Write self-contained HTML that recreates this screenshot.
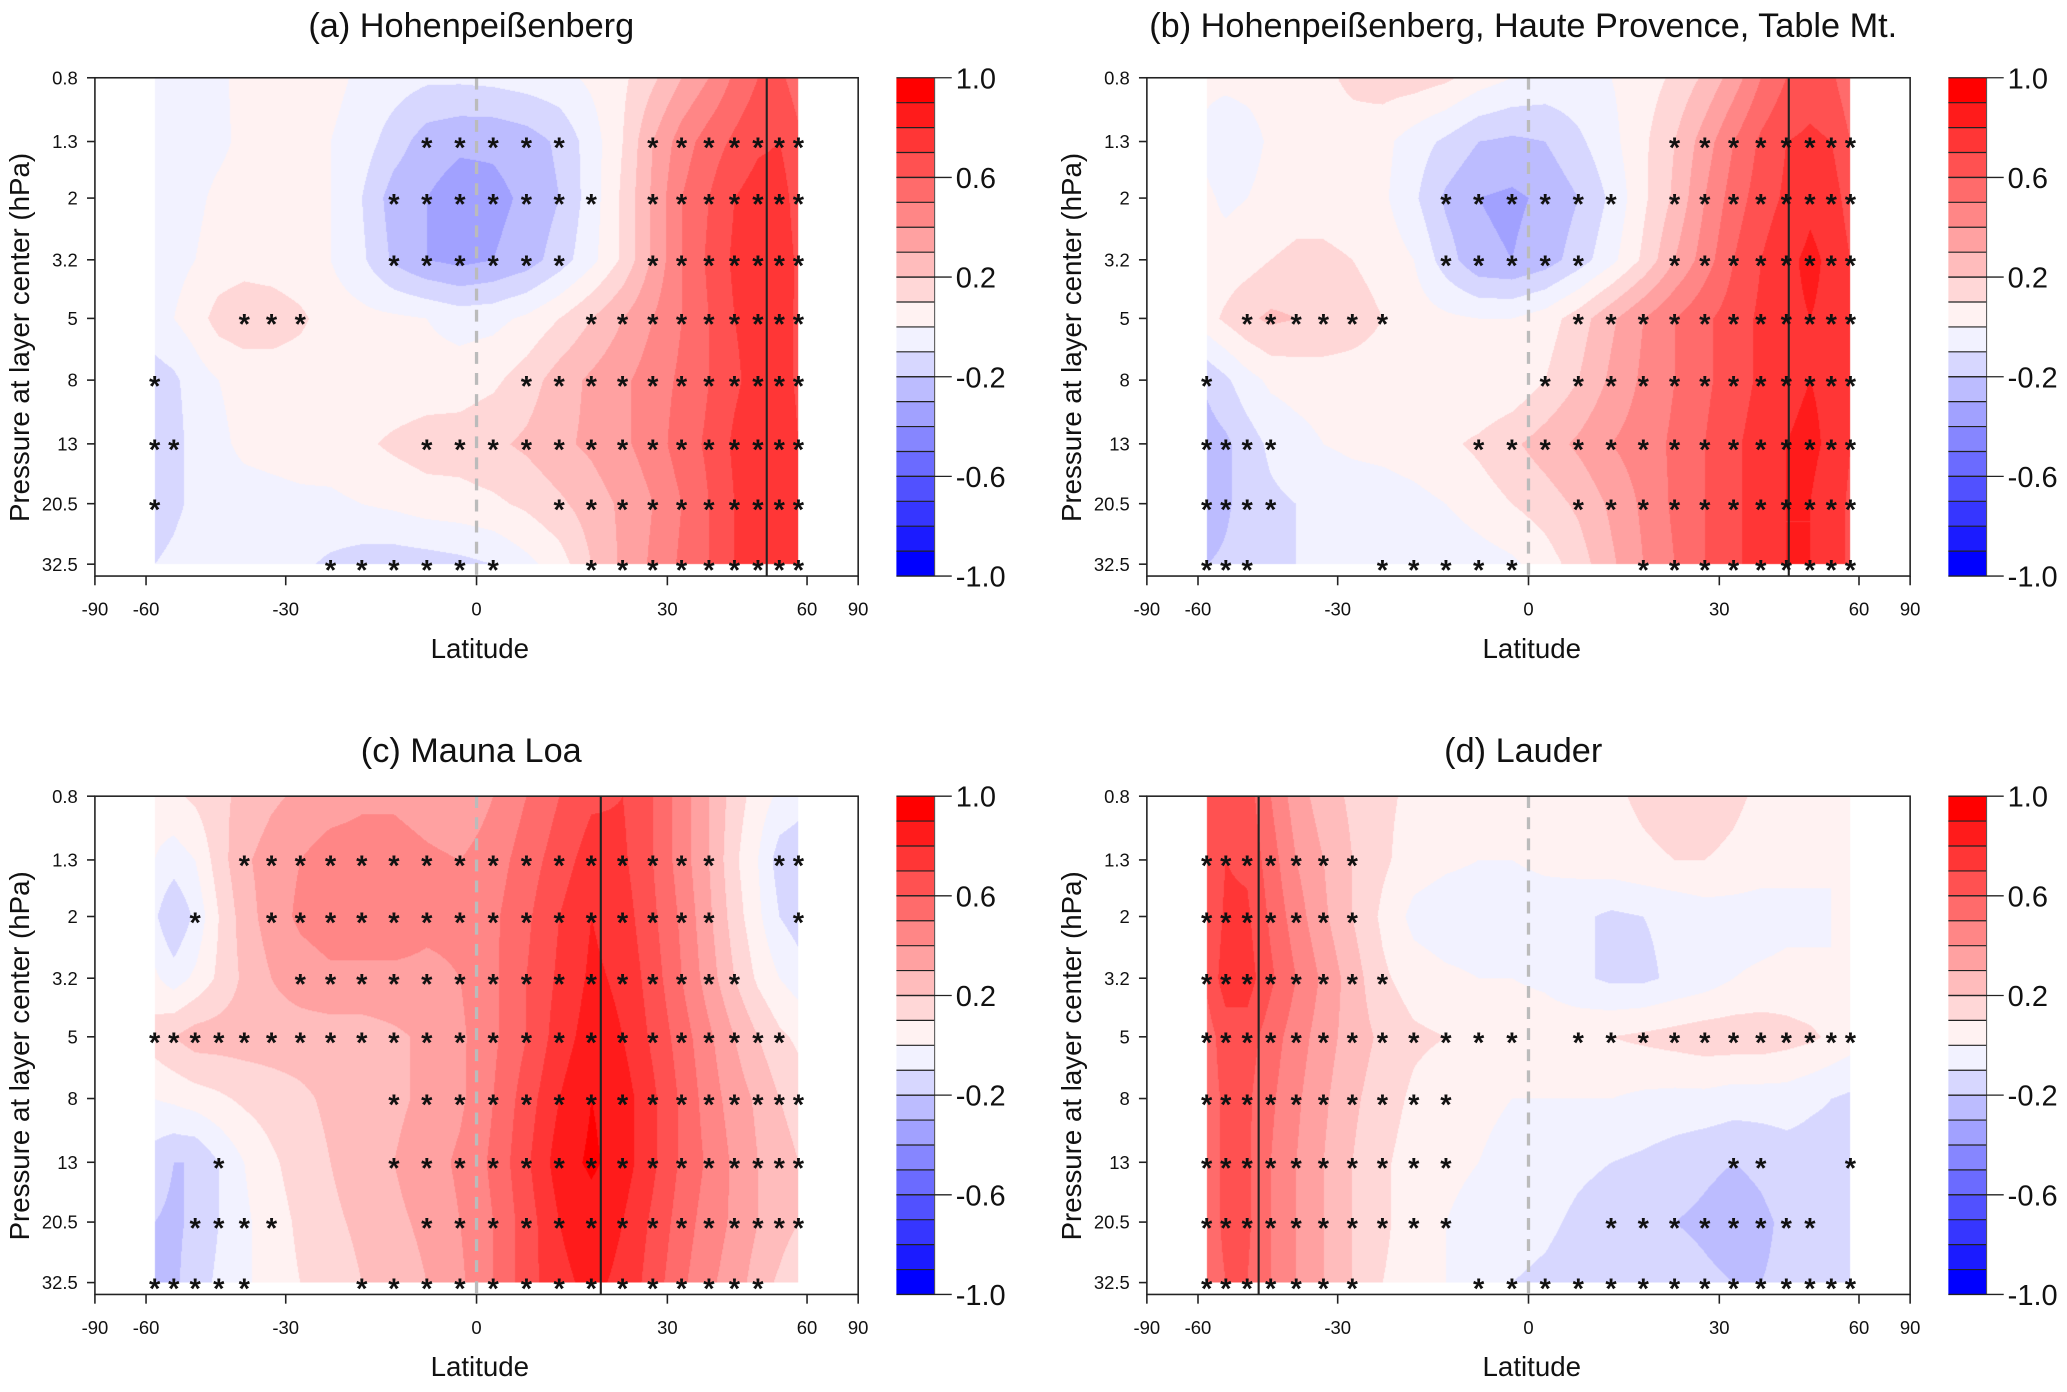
<!DOCTYPE html>
<html><head><meta charset="utf-8">
<style>
html,body{margin:0;padding:0;background:#fff;}
body{width:2067px;height:1392px;overflow:hidden;position:relative;}
#wrap{position:absolute;left:0;top:0;width:1568px;height:1056px;transform:scale(1.31824,1.31818);transform-origin:0 0;}
canvas{position:absolute;}
svg{position:absolute;left:0;top:0;}
text{font-family:"Liberation Sans",Arial,sans-serif;fill:#111;}
</style></head>
<body>
<div id="wrap"></div>
<script>
// ---------- DATA ----------
const pressureLevels = [0.8,1.3,2,3.2,5,8,13,20.5,32.5];
const latCenters = [-57.5,-52.5,-47.5,-42.5,-37.5,-32.5,-27.5,-22.5,-17.5,-12.5,-7.5,-2.5,2.5,7.5,12.5,17.5,22.5,27.5,32.5,37.5,42.5,47.5,52.5,57.5];
const xTickLabels = [-90,-60,-30,0,30,60,90];
const colorbarLabels = ["1.0","0.6","0.2","-0.2","-0.6","-1.0"];
const panelTitles = ["(a) Hohenpeißenberg","(b) Hohenpeißenberg, Haute Provence, Table Mt.","(c) Mauna Loa","(d) Lauder"];
const stationLats = [49.5, 43, 19, -45];

const panelAValues = [
[-0.05,-0.05,-0.05,-0.02,0.03,0.05,0.05,0.03,-0.02,-0.05,-0.08,-0.08,-0.07,-0.05,-0.03,0.02,0.08,0.18,0.3,0.4,0.52,0.6,0.62,0.55],
[-0.05,-0.05,-0.04,-0.02,0.02,0.03,0.02,0.0,-0.05,-0.15,-0.25,-0.28,-0.28,-0.25,-0.18,-0.05,0.1,0.3,0.45,0.55,0.62,0.68,0.7,0.62],
[-0.05,-0.04,-0.02,0.02,0.04,0.04,0.03,0.0,-0.1,-0.25,-0.3,-0.35,-0.33,-0.28,-0.2,-0.05,0.12,0.32,0.5,0.6,0.7,0.75,0.75,0.65],
[-0.05,-0.03,0.0,0.04,0.06,0.05,0.03,0.0,-0.08,-0.22,-0.3,-0.33,-0.3,-0.25,-0.15,-0.03,0.12,0.32,0.5,0.62,0.72,0.78,0.76,0.68],
[-0.03,0.0,0.05,0.14,0.17,0.16,0.12,0.05,0.03,0.02,0.0,-0.04,-0.03,0.02,0.1,0.2,0.3,0.4,0.5,0.6,0.7,0.75,0.75,0.68],
[-0.15,-0.12,-0.05,0.0,0.03,0.04,0.04,0.04,0.03,0.03,0.04,0.05,0.08,0.15,0.25,0.32,0.38,0.45,0.52,0.6,0.68,0.75,0.75,0.68],
[-0.18,-0.15,-0.05,-0.02,0.02,0.03,0.04,0.05,0.08,0.12,0.15,0.15,0.18,0.22,0.28,0.32,0.38,0.45,0.55,0.62,0.72,0.78,0.78,0.7],
[-0.15,-0.12,-0.08,-0.05,-0.04,-0.03,-0.02,-0.02,0.0,0.02,0.05,0.06,0.08,0.12,0.18,0.25,0.32,0.4,0.5,0.6,0.7,0.78,0.78,0.7],
[-0.1,-0.08,-0.05,-0.03,-0.03,-0.05,-0.08,-0.12,-0.15,-0.16,-0.15,-0.13,-0.1,-0.03,0.05,0.2,0.32,0.42,0.52,0.6,0.7,0.76,0.76,0.7]];
const panelBValues = [
[0.03,0.03,0.04,0.05,0.06,0.08,0.12,0.15,0.15,0.12,0.05,0.0,-0.03,-0.03,0.0,0.05,0.12,0.22,0.35,0.5,0.6,0.65,0.62,0.52],
[-0.03,-0.08,-0.05,0.02,0.05,0.06,0.06,0.03,-0.05,-0.12,-0.2,-0.22,-0.2,-0.12,-0.03,0.08,0.2,0.35,0.5,0.62,0.7,0.72,0.7,0.6],
[0.02,-0.02,0.0,0.04,0.06,0.06,0.05,0.02,-0.08,-0.22,-0.3,-0.32,-0.28,-0.2,-0.08,0.08,0.22,0.4,0.55,0.65,0.72,0.78,0.75,0.65],
[0.03,0.04,0.06,0.1,0.12,0.12,0.1,0.06,0.0,-0.15,-0.28,-0.3,-0.25,-0.15,-0.03,0.12,0.3,0.45,0.6,0.7,0.78,0.82,0.78,0.7],
[0.06,0.12,0.18,0.22,0.2,0.18,0.15,0.1,0.05,0.02,0.0,0.0,0.05,0.15,0.28,0.4,0.5,0.58,0.65,0.72,0.78,0.8,0.78,0.7],
[-0.18,-0.12,-0.04,0.02,0.04,0.05,0.05,0.05,0.04,0.02,0.0,0.02,0.1,0.2,0.32,0.42,0.5,0.58,0.65,0.72,0.78,0.8,0.78,0.7],
[-0.25,-0.22,-0.15,-0.08,-0.04,0.0,0.02,0.03,0.05,0.08,0.12,0.18,0.25,0.32,0.4,0.45,0.52,0.6,0.68,0.75,0.8,0.82,0.78,0.7],
[-0.28,-0.22,-0.15,-0.12,-0.1,-0.08,-0.06,-0.05,-0.03,0.0,0.05,0.1,0.15,0.22,0.32,0.42,0.52,0.6,0.68,0.75,0.8,0.8,0.75,0.68],
[-0.2,-0.18,-0.15,-0.12,-0.1,-0.1,-0.1,-0.1,-0.1,-0.08,-0.05,-0.02,0.05,0.15,0.28,0.4,0.5,0.6,0.68,0.75,0.8,0.8,0.75,0.68]];
const panelCValues = [
[0.05,0.08,0.12,0.18,0.22,0.28,0.32,0.35,0.38,0.38,0.35,0.32,0.4,0.5,0.6,0.68,0.7,0.6,0.45,0.3,0.15,0.05,-0.02,-0.05],
[0.0,-0.05,0.0,0.15,0.28,0.35,0.4,0.45,0.45,0.45,0.42,0.4,0.45,0.55,0.65,0.75,0.72,0.6,0.45,0.3,0.12,0.0,-0.15,-0.18],
[-0.08,-0.2,-0.08,0.1,0.25,0.35,0.42,0.45,0.45,0.45,0.42,0.42,0.48,0.58,0.7,0.8,0.75,0.62,0.48,0.32,0.15,0.02,-0.1,-0.15],
[0.02,-0.05,0.02,0.12,0.22,0.3,0.35,0.38,0.38,0.38,0.38,0.4,0.48,0.6,0.72,0.82,0.78,0.65,0.5,0.35,0.2,0.08,0.0,-0.05],
[0.15,0.2,0.25,0.25,0.25,0.25,0.25,0.25,0.25,0.28,0.32,0.38,0.48,0.6,0.75,0.85,0.8,0.68,0.55,0.42,0.3,0.2,0.12,0.08],
[0.0,0.02,0.05,0.08,0.12,0.15,0.18,0.22,0.25,0.28,0.32,0.38,0.5,0.65,0.8,0.9,0.85,0.72,0.58,0.45,0.35,0.28,0.2,0.15],
[-0.15,-0.2,-0.2,-0.1,0.0,0.08,0.15,0.2,0.25,0.3,0.35,0.42,0.52,0.68,0.85,0.92,0.85,0.72,0.58,0.48,0.38,0.3,0.25,0.2],
[-0.2,-0.22,-0.18,-0.1,-0.02,0.05,0.12,0.18,0.22,0.28,0.32,0.4,0.5,0.65,0.8,0.85,0.8,0.68,0.55,0.45,0.38,0.3,0.25,0.2],
[-0.25,-0.22,-0.15,-0.08,-0.02,0.05,0.1,0.15,0.2,0.25,0.3,0.38,0.5,0.65,0.78,0.82,0.78,0.65,0.52,0.42,0.35,0.25,0.18,0.1]];
const panelDValues = [
[0.6,0.68,0.65,0.5,0.35,0.25,0.18,0.12,0.08,0.05,0.05,0.05,0.05,0.06,0.08,0.12,0.15,0.15,0.12,0.08,0.05,0.03,0.02,0.02],
[0.6,0.7,0.68,0.55,0.4,0.3,0.2,0.12,0.05,0.02,0.0,0.0,0.02,0.04,0.06,0.08,0.1,0.1,0.08,0.05,0.03,0.02,0.0,0.0],
[0.6,0.72,0.72,0.58,0.45,0.32,0.2,0.08,-0.03,-0.06,-0.06,-0.05,-0.05,-0.08,-0.12,-0.1,-0.08,-0.05,-0.05,-0.05,-0.03,-0.02,0.0,0.0],
[0.62,0.75,0.75,0.62,0.5,0.38,0.25,0.12,0.05,0.02,0.0,0.0,-0.02,-0.08,-0.12,-0.12,-0.08,-0.05,0.0,0.02,0.03,0.02,0.0,0.0],
[0.55,0.65,0.65,0.55,0.45,0.35,0.25,0.18,0.12,0.1,0.08,0.06,0.06,0.08,0.1,0.12,0.14,0.16,0.16,0.16,0.14,0.12,0.08,0.05],
[0.55,0.62,0.62,0.52,0.42,0.32,0.22,0.15,0.08,0.04,0.02,0.0,0.0,0.0,0.0,-0.02,-0.03,-0.03,-0.05,-0.05,-0.05,-0.08,-0.1,-0.12],
[0.55,0.62,0.62,0.5,0.4,0.3,0.2,0.12,0.05,0.02,0.0,-0.03,-0.05,-0.08,-0.1,-0.12,-0.15,-0.18,-0.2,-0.18,-0.15,-0.15,-0.15,-0.15],
[0.55,0.62,0.62,0.5,0.4,0.3,0.2,0.12,0.05,0.0,-0.03,-0.06,-0.08,-0.12,-0.15,-0.18,-0.2,-0.22,-0.25,-0.22,-0.18,-0.15,-0.15,-0.12],
[0.55,0.6,0.6,0.5,0.4,0.3,0.2,0.1,0.05,0.0,-0.05,-0.1,-0.12,-0.15,-0.15,-0.15,-0.15,-0.18,-0.2,-0.2,-0.18,-0.15,-0.12,-0.1]];

const panelAStars = ["........................","..........*****..*******",".........*******.*******",".........******..*******","....***........*********","*............***********","**........**************","*.............**********",".......******..*********"];
const panelBStars = ["........................","................********",".........******.********",".........*****..********","..******.....***********","*...........************","****......**************","****.........***********","***....*****...*********"];
const panelCStars = ["........................","....****************..**","..*..***************...*","......***************...","***********************.",".........***************","...*.....***************","..****....**************","*****...**************.."];
const panelDStars = ["........................","*******.................","*******.................","********................","************.***********","**********..............","**********........**...*","**********....********..","*******...**************"];

// ---------- LAYOUT ----------
const S = 1.3182;
const BOX = {l:72, r:651, t:59, b:437};
const panelOffsets = [[0,0],[798,0],[0,545],[798,545]];
const titleOffsets = [0,0,5,5];
const allValues = [panelAValues,panelBValues,panelCValues,panelDValues];
const allStars = [panelAStars,panelBStars,panelCStars,panelDStars];
const pxPerDecade = 369/(Math.log10(32.5)-Math.log10(0.8));
const cx = (BOX.l+BOX.r)/2, half = (BOX.r-BOX.l)/2;
function xOfLat(lat){return cx + half*Math.sin(lat*Math.PI/180);}
function yOfP(p){return BOX.t + (Math.log10(p)-Math.log10(0.8))*pxPerDecade;}
function binColor(b){
  if(b>=0){const g=Math.round(255*(1-(2*b+1)/19));return [255,g,g];}
  const k=-b-1; const g=Math.round(255*(1-(2*k+1)/19));return [g,g,255];
}
const wrap=document.getElementById('wrap');
const NS='http://www.w3.org/2000/svg';
function el(tag,attrs,parent){const e=document.createElementNS(NS,tag);for(const k in attrs)e.setAttribute(k,attrs[k]);parent.appendChild(e);return e;}

allValues.forEach((vals,pi)=>{
  const [dx,dy]=panelOffsets[pi];
  const w=BOX.r-BOX.l, h=BOX.b-BOX.t;
  const c=document.createElement('canvas');
  
  
  const W=Math.round(w*S), H=Math.round(h*S);
  c.width=W;c.height=H;
  c.style.left=(BOX.l+dx)+'px';c.style.top=(BOX.t+dy)+'px';c.style.width=w+'px';c.style.height=h+'px';
  const ctx=c.getContext('2d');const img=ctx.createImageData(W,H);
  const levelY=pressureLevels.map(yOfP);
  const latMin=latCenters[0], latMax=latCenters[latCenters.length-1], dLat=latCenters[1]-latCenters[0];
  for(let py=0;py<H;py++){
    const y=BOX.t+(py+0.5)/S;
    if(y<levelY[0]||y>levelY[levelY.length-1])continue;
    let r=0;while(r<levelY.length-2&&y>levelY[r+1])r++;
    const fy=(y-levelY[r])/(levelY[r+1]-levelY[r]);
    for(let px=0;px<W;px++){
      const x=BOX.l+(px+0.5)/S;
      const s=(x-cx)/half; if(s<-1||s>1)continue;
      const lat=Math.asin(s)*180/Math.PI;
      if(lat<latMin||lat>latMax)continue;
      let fc=(lat-latMin)/dLat;let c0=Math.min(Math.floor(fc),latCenters.length-2);const fx=fc-c0;
      const v=(vals[r][c0]*(1-fx)+vals[r][c0+1]*fx)*(1-fy)+(vals[r+1][c0]*(1-fx)+vals[r+1][c0+1]*fx)*fy;
      let b=Math.floor(v*10);if(b>9)b=9;if(b<-10)b=-10;
      const col=binColor(b);const i=(py*W+px)*4;
      img.data[i]=col[0];img.data[i+1]=col[1];img.data[i+2]=col[2];img.data[i+3]=255;
    }
  }
  ctx.putImageData(img,0,0);
  wrap.appendChild(c);
});

const svg=el('svg',{width:1568,height:1056,viewBox:'0 0 1568 1056'},wrap);



allValues.forEach((vals,pi)=>{
  const [dx,dy]=panelOffsets[pi];
  const g=el('g',{transform:`translate(${dx},${dy})`},svg);
  
  
  const t=el('text',{x:(BOX.l+BOX.r)/2-4,y:28+titleOffsets[pi],'font-size':26,'text-anchor':'middle'},g);
  t.textContent=panelTitles[pi];
  
  
  const eq=el('line',{x1:xOfLat(0),x2:xOfLat(0),y1:BOX.t,y2:BOX.b,stroke:'#bbb','stroke-width':2.5,'stroke-dasharray':'9,7'},g);
  
  
  const sx=xOfLat(stationLats[pi]);
  const st=el('line',{x1:sx,x2:sx,y1:BOX.t,y2:BOX.b,stroke:'#222','stroke-width':1.6},g);
  
  
  allStars[pi].forEach((row,ri)=>{
    for(let ci=0;ci<row.length;ci++){ if(row[ci]!=='*')continue;
      const s=el('text',{x:xOfLat(latCenters[ci]),y:yOfP(pressureLevels[ri])+12,'font-size':22,'font-weight':'bold','text-anchor':'middle'},g);
      s.textContent='*';
      
      
    }
  });
  const bx=el('rect',{x:BOX.l,y:BOX.t,width:BOX.r-BOX.l,height:BOX.b-BOX.t,fill:'none',stroke:'#222','stroke-width':1.2},g);
  
  
  pressureLevels.forEach(p=>{
    const y=yOfP(p);
    el('line',{x1:BOX.l-6,x2:BOX.l,y1:y,y2:y,stroke:'#222','stroke-width':1.2},g);
    const tl=el('text',{x:BOX.l-13,y:y+5,'font-size':14,'text-anchor':'end'},g);
    tl.textContent=String(p);
    
    
  });
  xTickLabels.forEach(v=>{
    const x=xOfLat(v);
    el('line',{x1:x,x2:x,y1:BOX.b,y2:BOX.b+7,stroke:'#222','stroke-width':1.2},g);
    const tl=el('text',{x:x,y:BOX.b+30,'font-size':14,'text-anchor':'middle'},g);
    tl.textContent=String(v);
    
    
  });
  const xt=el('text',{x:364,y:499,'font-size':21,'text-anchor':'middle'},g);
  xt.textContent='Latitude';
  
  
  const yt=el('text',{x:0,y:0,'font-size':21,'text-anchor':'middle',transform:`translate(22,256) rotate(-90)`},g);
  yt.textContent='Pressure at layer center (hPa)';
  
  
  const cb=el('g',{},g);
  
  
  const cbT=59, cbB=437, segH=(cbB-cbT)/20;
  for(let b=9;b>=-10;b--){
    const idx=9-b; const col=binColor(b);
    el('rect',{x:680,y:cbT+idx*segH,width:29,height:segH+0.3,fill:`rgb(${col[0]},${col[1]},${col[2]})`},cb);
  }
  for(let i=1;i<20;i++){ el('line',{x1:680,x2:709,y1:cbT+i*segH,y2:cbT+i*segH,stroke:'#222','stroke-width':0.9},cb);}
  el('line',{x1:709,x2:709,y1:cbT,y2:cbB,stroke:'#555','stroke-width':0.8},cb);
  colorbarLabels.forEach((lab,i)=>{
    const y=cbT+i*4*segH;
    el('line',{x1:680,x2:722,y1:y,y2:y,stroke:'#222','stroke-width':1},cb);
    const tl=el('text',{x:725,y:y+8,'font-size':22},cb);
    tl.textContent=lab;
    
    
  });
});
</script>
</body></html>
